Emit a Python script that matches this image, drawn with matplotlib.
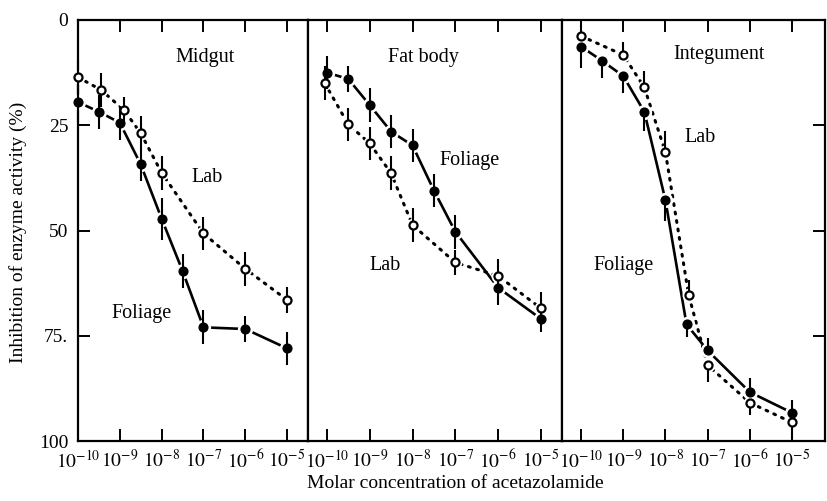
import numpy as np
import matplotlib.pyplot as plt
from matplotlib.ticker import FixedLocator, NullLocator

plt.rcParams['font.family'] = ['Liberation Serif', 'DejaVu Serif']
plt.rcParams['mathtext.fontset'] = 'stix'

# exponents of molar concentration (10**x) and % inhibition
midgut_fol_x = [-10, -9.5, -9, -8.5, -8, -7.5, -7, -6, -5]
midgut_fol_y = [19.5, 21.8, 24.4, 34.3, 47.2, 59.6, 73.0, 73.4, 78.0]
midgut_fol_err = [5, 4, 4, 4, 5, 4, 4, 3, 4]
midgut_lab_x = [-10, -9.45, -8.9, -8.5, -8, -7, -6, -5]
midgut_lab_y = [13.6, 16.6, 21.4, 26.9, 36.3, 50.7, 59.1, 66.5]
midgut_lab_err = [4, 4, 3, 4, 4, 4, 4, 3]

fat_fol_x = [-10, -9.5, -9, -8.5, -8, -7.5, -7, -6, -5]
fat_fol_y = [12.5, 14.0, 20.2, 26.5, 29.8, 40.5, 50.3, 63.6, 71.0]
fat_fol_err = [4, 3, 4, 4, 4, 4, 4, 4, 3]
fat_lab_x = [-10.05, -9.5, -9, -8.5, -8, -7, -6, -5]
fat_lab_y = [15.0, 24.8, 29.3, 36.4, 48.7, 57.6, 60.8, 68.5]
fat_lab_err = [4, 4, 4, 4, 4, 3, 4, 4]

integ_fol_x = [-10, -9.5, -9, -8.5, -8, -7.5, -7, -6, -5]
integ_fol_y = [6.3, 9.7, 13.3, 21.8, 42.8, 72.3, 78.5, 88.4, 93.3]
integ_fol_err_lo = [0, 0, 0, 0, 0, 0, 3, 3.3, 3]
integ_fol_err_hi = [5, 4, 4, 4.5, 5, 3, 0, 0, 0]
integ_lab_x = [-10, -9, -8.5, -8, -7.45, -7, -6, -5]
integ_lab_y = [3.8, 8.3, 16.0, 31.4, 65.3, 82.0, 90.9, 95.6]
integ_lab_err_lo = [3, 3, 4, 5, 3.5, 0, 0, 0]
integ_lab_err_hi = [0, 0, 0, 0, 0, 4, 3, 4.5]

tick_exp = [-10, -9, -8, -7, -6, -5]
tick_labels = ['$10^{-%d}$' % -e for e in tick_exp]
y_ticks = [0, 25, 50, 75, 100]
y_labels = ['0', '25', '50', '75.', '100']


def draw_panel(ax, fx, fy, ferr, lx, ly, lerr):
    fx = 10.0 ** np.array(fx)
    lx = 10.0 ** np.array(lx)
    ax.plot(lx, ly, ls=(0, (0.6, 2.2)), color='k', lw=2.2, dash_capstyle='round', zorder=2)
    ax.plot(fx, fy, '-', color='k', lw=1.9, zorder=2)
    # white halo leaves small gaps between the lines and the markers
    ax.plot(fx, fy, 'o', ms=10, color='white', zorder=3, clip_on=False)
    ax.plot(lx, ly, 'o', ms=9, color='white', zorder=3, clip_on=False)
    ax.errorbar(fx, fy, yerr=ferr, fmt='none', ecolor='k', elinewidth=1.5, capsize=0, zorder=4, clip_on=False)
    ax.errorbar(lx, ly, yerr=lerr, fmt='none', ecolor='k', elinewidth=1.5, capsize=0, zorder=4, clip_on=False)
    ax.plot(fx, fy, 'o', ms=6.3, color='k', zorder=5, clip_on=False)
    ax.plot(lx, ly, 'o', ms=5.8, mfc='white', mec='k', mew=1.6, zorder=5, clip_on=False)


fig = plt.figure(figsize=(8.27, 5.01), dpi=100)
W, H = 827.0, 501.0
top_px, bot_px = 20.0, 441.0
# (left px, right px, xmin exponent, xmax exponent)
layout = [(78, 308, -10.0, -4.5), (308, 562, -10.44, -4.51), (562, 825, -10.45, -4.22)]
axes = []
for lp, rp, x0, x1 in layout:
    ax = fig.add_axes([lp / W, 1 - bot_px / H, (rp - lp) / W, (bot_px - top_px) / H])
    ax.set_xscale('log')
    ax.set_xlim(10.0 ** x0, 10.0 ** x1)
    ax.set_ylim(100, 0)
    ax.xaxis.set_major_locator(FixedLocator([10.0 ** e for e in tick_exp]))
    ax.xaxis.set_minor_locator(NullLocator())
    ax.set_xticklabels(tick_labels)
    ax.tick_params(axis='x', which='major', direction='in', top=True, length=8.5, width=1.4,
                   labelsize=14, pad=6)
    ax.set_yticks(y_ticks)
    ax.tick_params(axis='y', direction='in', length=8.5, width=1.4, left=False, right=False,
                   labelleft=False, labelsize=14, pad=7)
    for s in ax.spines.values():
        s.set_linewidth(1.6)
    axes.append(ax)

ax1, ax2, ax3 = axes
ax1.tick_params(axis='y', left=True, labelleft=True)
ax1.set_yticklabels(y_labels)
ax3.tick_params(axis='y', right=True)

draw_panel(ax1, midgut_fol_x, midgut_fol_y, midgut_fol_err,
           midgut_lab_x, midgut_lab_y, midgut_lab_err)
draw_panel(ax2, fat_fol_x, fat_fol_y, fat_fol_err,
           fat_lab_x, fat_lab_y, fat_lab_err)
draw_panel(ax3, integ_fol_x, integ_fol_y, [integ_fol_err_lo, integ_fol_err_hi],
           integ_lab_x, integ_lab_y, [integ_lab_err_lo, integ_lab_err_hi])

txt = dict(ha='center', va='center', fontsize=14.5)
ax1.text(10 ** -6.96, 8.8, 'Midgut', **txt)
ax1.text(10 ** -6.91, 37.3, 'Lab', **txt)
ax1.text(10 ** -8.49, 69.6, 'Foliage', **txt)
ax2.text(10 ** -7.75, 8.8, 'Fat body', **txt)
ax2.text(10 ** -6.66, 33.3, 'Foliage', **txt)
ax2.text(10 ** -8.64, 58.2, 'Lab', **txt)
ax3.text(10 ** -6.73, 8.3, 'Integument', **txt)
ax3.text(10 ** -7.18, 28.0, 'Lab', **txt)
ax3.text(10 ** -9.0, 58.2, 'Foliage', **txt)

fig.text(18 / W, 1 - 232 / H, 'Inhibition of enzyme activity (%)', rotation=90,
         ha='center', va='center', fontsize=14)
fig.text(455 / W, 1 - 484 / H, 'Molar concentration of acetazolamide',
         ha='center', va='center', fontsize=14)

fig.savefig('out.png', dpi=100)
